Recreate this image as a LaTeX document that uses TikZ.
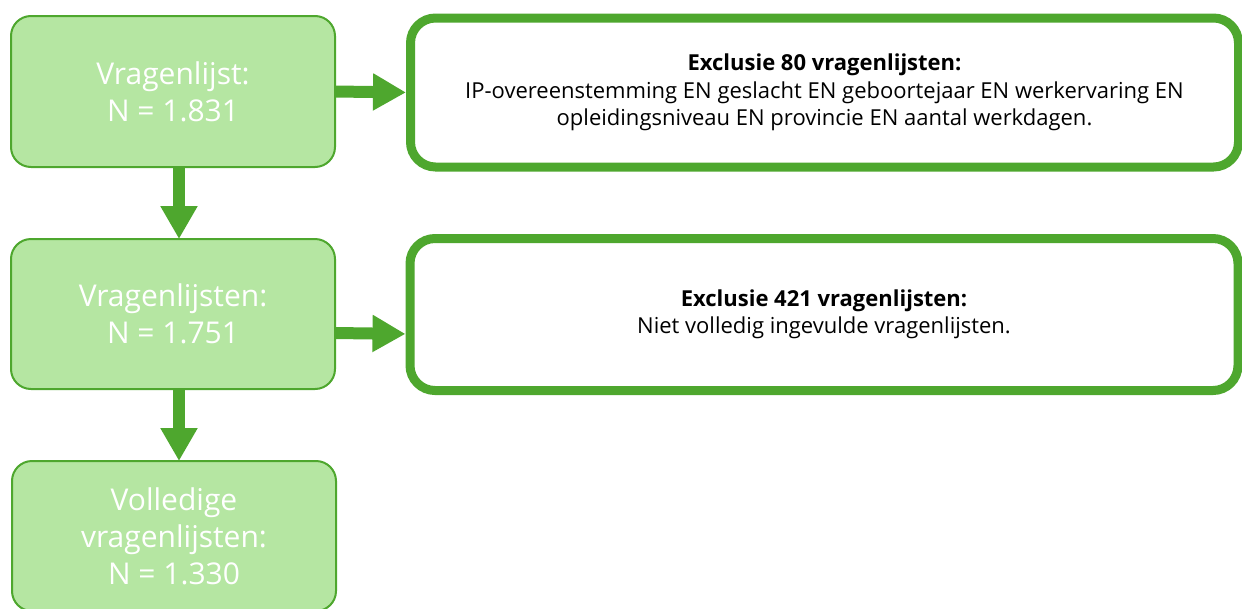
\documentclass[tikz,border=0pt]{standalone}
\usepackage{fontspec}
\setmainfont{Open Sans}
\usetikzlibrary{arrows.meta}
\definecolor{gstroke}{HTML}{4EA72E}
\definecolor{gfill}{HTML}{B5E6A2}
\tikzset{
  leftbox/.style={draw=gstroke, line width=2pt, fill=gfill, rounded corners=20pt,
    minimum width=324pt, minimum height=151pt, inner sep=0pt, outer sep=0pt,
    align=center, text=white, font=\fontsize{30}{37}\selectfont},
  rightbox/.style={draw=gstroke, line width=9pt, fill=white, rounded corners=25pt,
    minimum width=828pt, minimum height=149pt, inner sep=0pt, outer sep=0pt,
    align=center, text=black, font=\fontsize{22}{27.5}\selectfont},
  flowarrow/.style={draw=gstroke, line width=12pt,
    -{Triangle[length=33pt,width=35pt]}}
}
\begin{document}
\begin{tikzpicture}[x=1pt,y=-1pt]
\useasboundingbox (0,0) rectangle (1242,608);
\begin{scope}
\clip (0,0) rectangle (1242,608);
\node[leftbox] (b1) at (173,91.5) {Vragenlijst:\\N = 1.831};
\node[leftbox, minimum height=150pt] (b2) at (173,314) {Vragenlijsten:\\N = 1.751};
\node[leftbox, minimum height=150pt] (b3) at (174,536) {Volledige\\vragenlijsten:\\N = 1.330};
\node[rightbox] (r1) at (824.5,92.5) {\textbf{Exclusie 80 vragenlijsten:}\\IP-overeenstemming EN geslacht EN geboortejaar EN werkervaring EN\\opleidingsniveau EN provincie EN aantal werkdagen.};
\node[rightbox, minimum height=152pt] (r2) at (824,314.5) {\textbf{Exclusie 421 vragenlijsten:}\\Niet volledig ingevulde vragenlijsten.};
\draw[flowarrow, shorten >=4.5pt] (b1.east) -- (r1.west);
\draw[flowarrow, shorten >=4.5pt] ([yshift=-19pt]b2.east) -- ([yshift=-19.5pt]r2.west);
\draw[flowarrow] ([xshift=6pt]b1.south) -- ([xshift=6pt]b2.north);
\draw[flowarrow] ([xshift=6pt]b2.south) -- ([xshift=5pt]b3.north);
\end{scope}
\end{tikzpicture}
\end{document}
